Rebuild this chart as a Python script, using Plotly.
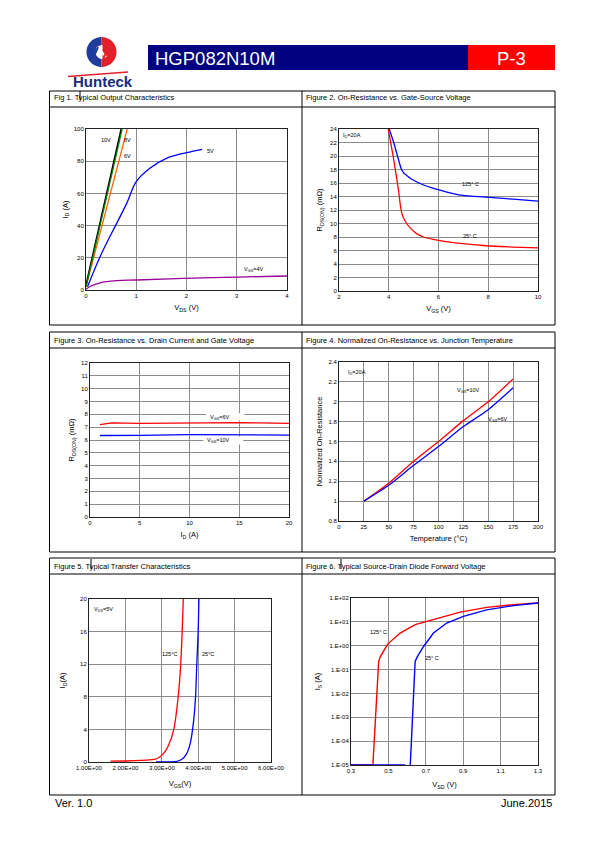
import math
import plotly.graph_objects as go

W, H = 595, 842
FONT = "Liberation Sans, Arial, sans-serif"

def px(x):
    return x / W

def py(y):
    return 1 - y / H

# ---------------- data ----------------
# Fig 1 output characteristics
f1_10v_vds = [0.0, 0.70]
f1_10v_id = [3, 100]
f1_8v_vds = [0.0, 0.72]
f1_8v_id = [2, 100]
f1_6v_vds = [0.0, 0.82]
f1_6v_id = [2, 100]
f1_5v_vds = [0.03, 0.28, 0.61, 0.81, 1.0, 1.27, 1.6, 2.0, 2.31]
f1_5v_id = [2, 20.7, 41.4, 53.8, 67.3, 75.6, 81.8, 85.3, 87.4]
f1_4v_vds = [0.0, 0.1, 0.28, 0.61, 1.0, 1.93, 3.0, 4.0]
f1_4v_id = [0.4, 2.5, 4.5, 5.8, 6.2, 7.2, 8.0, 8.7]

# Fig 2 Rds(on) vs Vgs
f2_vgs_125 = [4.02, 4.2, 4.35, 4.5, 4.6, 4.8, 5.0, 5.4, 5.8, 6.3, 6.9, 7.9, 9.0, 10]
f2_r_125 = [24, 22, 20, 18.1, 17.5, 16.9, 16.4, 15.7, 15.2, 14.7, 14.2, 13.9, 13.6, 13.3]
f2_vgs_25 = [3.98, 4.18, 4.39, 4.47, 4.55, 4.72, 4.9, 5.12, 5.4, 5.79, 6.3, 6.87, 7.94, 9.0, 10]
f2_r_25 = [24, 19.9, 15, 12.6, 11.2, 10, 9.2, 8.5, 8.0, 7.65, 7.3, 7.06, 6.7, 6.5, 6.4]

# Fig 3 Rds(on) vs Id
f3_id = [1, 2.2, 5, 10, 15, 17, 20]
f3_r_6v = [7.2, 7.33, 7.3, 7.35, 7.36, 7.33, 7.3]
f3_r_10v = [6.35, 6.35, 6.36, 6.42, 6.4, 6.39, 6.38]

# Fig 4 normalized Rds(on) vs Tj
f4_temp = [25, 50, 75, 100, 125, 150, 175]
f4_r_10v = [1.0, 1.18, 1.40, 1.60, 1.81, 2.0, 2.23]
f4_r_6v = [1.0, 1.16, 1.36, 1.55, 1.75, 1.92, 2.14]

# Fig 5 transfer characteristics
f5_vgs_125 = [1.59, 2.0, 2.67, 2.86, 3.04, 3.18, 3.33, 3.45, 3.52, 3.56, 3.59]
f5_id_125 = [0.1, 0.12, 0.25, 0.4, 1.0, 2.0, 4.0, 8.0, 12.0, 16.0, 20.0]
f5_vgs_25 = [2.84, 3.41, 3.55, 3.68, 3.78, 3.87, 3.93, 3.96, 4.0, 4.02]
f5_id_25 = [0.0, 0.08, 0.33, 1.0, 2.26, 4.9, 8.2, 11.9, 16, 20]
f5_xtick_vals = [1, 2, 3, 4, 5, 6]
f5_xtick_text = ["1.00E+00", "2.00E+00", "3.00E+00", "4.00E+00", "5.00E+00", "6.00E+00"]

# Fig 6 diode forward voltage
f6_vsd_125 = [0.3, 0.417, 0.448, 0.457, 0.496, 0.563, 0.643, 0.741, 0.884, 1.026, 1.168, 1.3]
f6_is_125 = [1e-5, 1e-5, 0.22, 0.35, 1.17, 3.4, 7.6, 12.3, 25.6, 40.6, 52.7, 61.6]
f6_vsd_25_flat = [0.3, 0.59]
f6_is_25_flat = [1e-5, 1e-5]
f6_vsd_25 = [0.617, 0.643, 0.655, 0.688, 0.741, 0.812, 0.901, 1.026, 1.168, 1.3]
f6_is_25 = [1e-5, 0.22, 0.35, 0.93, 3.4, 8.9, 17, 32, 48, 61.6]
f6_ytick_vals = [1e-5, 1e-4, 1e-3, 1e-2, 1e-1, 1, 10, 100]
f6_ytick_text = ["1.E-05", "1.E-04", "1.E-03", "1.E-02", "1.E-01", "1.E+00", "1.E+01", "1.E+02"]

titles = [
    "Fig 1. Typical Output Characteristics",
    "Figure 2. On-Resistance vs. Gate-Source Voltage",
    "Figure 3. On-Resistance vs. Drain Current and Gate Voltage",
    "Figure 4. Normalized On-Resistance vs. Junction Temperature",
    "Figure 5. Typical Transfer Characteristics",
    "Figure 6. Typical Source-Drain Diode Forward Voltage",
]

# ---------------- figure ----------------
fig = go.Figure()

def line(x, y, color, ax, width=1.3, shape="linear", smoothing=1.0):
    fig.add_trace(go.Scatter(
        x=x, y=y, mode="lines", xaxis="x" + ax, yaxis="y" + ax,
        line=dict(color=color, width=width, shape=shape, smoothing=smoothing),
        showlegend=False, hoverinfo="skip"))

# Fig 1
line(f1_4v_vds, f1_4v_id, "#990099", "", shape="spline")
line(f1_5v_vds, f1_5v_id, "#0000ff", "", shape="spline")
line(f1_6v_vds, f1_6v_id, "#ff6600", "")
line(f1_10v_vds, f1_10v_id, "#000000", "", width=1.6)
line(f1_8v_vds, f1_8v_id, "#008000", "", width=1.2)
# Fig 2
line(f2_vgs_125, f2_r_125, "#0000ff", "2", shape="spline", smoothing=0.4)
line(f2_vgs_25, f2_r_25, "#ff0000", "2", shape="spline", smoothing=0.4)
# Fig 3
line(f3_id, f3_r_6v, "#ff0000", "3")
line(f3_id, f3_r_10v, "#0000ff", "3")
# Fig 4
line(f4_temp, f4_r_10v, "#ff0000", "4", shape="spline", smoothing=0.6)
line(f4_temp, f4_r_6v, "#0000ff", "4", shape="spline", smoothing=0.6)
# Fig 5
line(f5_vgs_125, f5_id_125, "#ff0000", "5", shape="spline", smoothing=0.5)
line(f5_vgs_25, f5_id_25, "#0000ff", "5", shape="spline", smoothing=0.5)
# Fig 6
line(f6_vsd_125, f6_is_125, "#ff0000", "6", width=1.4)
line(f6_vsd_25_flat, f6_is_25_flat, "#0000ff", "6", width=1.6)
line(f6_vsd_25, f6_is_25, "#0000ff", "6", width=1.4)

tickfont = dict(family=FONT, size=6, color="#000")
titlefont = dict(family=FONT, size=7.5, color="#000")

def axis(dom, rng, dtick=None, title="", standoff=6, **kw):
    d = dict(domain=dom, range=rng, showgrid=True, gridcolor="#8c8c8c", gridwidth=1,
             showline=True, linecolor="#222", linewidth=1, mirror=True,
             zeroline=False, ticks="", tickfont=tickfont, fixedrange=True,
             automargin=False,
             title=dict(text=title, font=titlefont, standoff=standoff))
    if dtick is not None:
        d["dtick"] = dtick
        d["tick0"] = rng[0]
    d.update(kw)
    return d

def xd(a, b):
    return [px(a), px(b)]

def yd(top, bot):
    return [py(bot), py(top)]

layout_axes = dict(
    xaxis=axis(xd(86, 287), [0, 4], 1, "V<sub>DS</sub> (V)", anchor="y"),
    yaxis=axis(yd(129, 290), [0, 100], 20, "I<sub>D</sub> (A)", 4, anchor="x"),
    xaxis2=axis(xd(339, 538), [2, 10], 2, "V<sub>GS</sub> (V)", anchor="y2"),
    yaxis2=axis(yd(129, 291), [0, 24], 2, "R<sub>DS(ON)</sub> (mΩ)", 6, anchor="x2"),
    xaxis3=axis(xd(90, 289), [0, 20], 5, "I<sub>D</sub> (A)", anchor="y3"),
    yaxis3=axis(yd(363, 517), [0, 12], 1, "R<sub>DS(ON)</sub> (mΩ)", 5, anchor="x3"),
    xaxis4=axis(xd(339, 538), [0, 200], 25, "Temperature (°C)", anchor="y4"),
    yaxis4=axis(yd(362, 521), [0.8, 2.4], 0.2, "Normalized On-Resistance", 4, anchor="x4"),
    xaxis5=axis(xd(89, 271), [1, 6], None, "V<sub>GS</sub>(V)", 10, anchor="y5",
                tickmode="array", tickvals=f5_xtick_vals, ticktext=f5_xtick_text),
    yaxis5=axis(yd(599, 762), [0, 20], 4, "I<sub>D</sub>(A)", 13, anchor="x5"),
    xaxis6=axis(xd(351, 538), [0.3, 1.3], 0.2, "V<sub>SD</sub> (V)", 8, anchor="y6"),
    yaxis6=axis(yd(598, 765), [-5, 2], None, "I<sub>S</sub> (A)", 7, anchor="x6", type="log",
                tickmode="array", tickvals=f6_ytick_vals, ticktext=f6_ytick_text),
)

ann = []

def note(x, y, text, ax, size=5.5, **kw):
    d = dict(x=x, y=y, xref="x" + ax, yref="y" + ax, text=text, showarrow=False,
             font=dict(family=FONT, size=size, color="#000"))
    d.update(kw)
    ann.append(d)

# Fig 1 labels
note(0.39, 93, "10V", "")
note(0.82, 93, "8V", "")
note(0.83, 83, "6V", "")
note(2.48, 86.3, "5V", "")
note(3.34, 13, "V<sub>GS</sub>=4V", "")
# Fig 2 labels
note(2.51, 23.1, "I<sub>D</sub>=20A", "2")
note(7.27, 15.8, "125° C", "2")
note(7.27, 8.2, "25° C", "2")
# Fig 3 labels
note(13.04, 7.79, "V<sub>GS</sub>=6V", "3")
note(12.88, 5.95, "V<sub>GS</sub>=10V", "3")
# Fig 4 labels
note(18.1, 2.29, "I<sub>D</sub>=20A", "4")
note(129.9, 2.11, "V<sub>GS</sub>=10V", "4")
note(159.4, 1.82, "V<sub>GS</sub>=6V", "4")
# Fig 5 labels
note(1.40, 18.7, "V<sub>DS</sub>=5V", "5")
note(3.20, 13.3, "125°C", "5")
note(4.28, 13.3, "25°C", "5")
# Fig 6 labels
note(0.448, 0.571, "125° C", "6")
note(0.732, -0.52, "25° C", "6")

# Panel titles
title_pos = [(52, 98), (304, 98), (52, 340), (304, 340), (52, 566), (304, 566)]
for t, (x, y) in zip(titles, title_pos):
    ann.append(dict(x=px(x), y=py(y), xref="paper", yref="paper", text=t, showarrow=False,
                    xanchor="left", yanchor="middle",
                    font=dict(family=FONT, size=7.5, color="#000")))

# Header text
ann.append(dict(x=px(153), y=py(58), xref="paper", yref="paper", text="HGP082N10M",
                showarrow=False, xanchor="left", yanchor="middle",
                font=dict(family=FONT, size=18.5, color="#ffffff")))
ann.append(dict(x=px(511.5), y=py(58), xref="paper", yref="paper", text="P-3",
                showarrow=False, xanchor="center", yanchor="middle",
                font=dict(family=FONT, size=18.5, color="#ffffff")))
ann.append(dict(x=px(103), y=py(82), xref="paper", yref="paper", text="<b>Hunteck</b>",
                showarrow=False, xanchor="center", yanchor="middle",
                font=dict(family=FONT, size=15, color="#1c2a7a")))
# Footer
ann.append(dict(x=px(53), y=py(803), xref="paper", yref="paper", text="Ver. 1.0",
                showarrow=False, xanchor="left", yanchor="middle",
                font=dict(family=FONT, size=11, color="#000")))
ann.append(dict(x=px(554), y=py(803), xref="paper", yref="paper", text="June.2015",
                showarrow=False, xanchor="right", yanchor="middle",
                font=dict(family=FONT, size=11, color="#000")))

shapes = []

def rect(x0, y0, x1, y1, fill=None, lc="#000", lw=1):
    d = dict(type="rect", xref="paper", yref="paper", x0=px(x0), x1=px(x1), y0=py(y1), y1=py(y0),
             line=dict(color=lc, width=lw))
    if fill:
        d["fillcolor"] = fill
    shapes.append(d)

def seg(x0, y0, x1, y1, color="#000", w=1):
    shapes.append(dict(type="line", xref="paper", yref="paper", x0=px(x0), x1=px(x1),
                       y0=py(y0), y1=py(y1), line=dict(color=color, width=w)))

# Header bars
rect(148, 45, 468, 70, fill="#000080", lw=0)
rect(468, 45, 555, 70, fill="#ff0000", lw=0)

# Panel boxes
for top, sep, bot in [(91, 107, 325), (332, 348, 552), (558, 574, 795)]:
    rect(49.5, top, 555, bot)
    seg(49.5, sep, 555, sep)
    seg(302, top, 302, bot)

# cursor artifacts in titles
seg(80, 91, 80, 100)
seg(91, 559, 91, 569)
seg(341, 559, 341, 569)

# white label boxes in Fig 3 (hide gridlines behind labels)
for (x0, x1, y0, y1) in [(11.7, 15.5, 7.52, 8.08), (11.4, 15.4, 5.64, 6.28)]:
    shapes.append(dict(type="rect", xref="x3", yref="y3", x0=x0, x1=x1, y0=y0, y1=y1,
                       fillcolor="#ffffff", line=dict(width=0), layer="between"))

# Logo (approximation)
cx, cy, r = 101.5, 52, 15

def arc_path(a0, a1, rr, n=40, dx=0):
    pts = []
    for i in range(n + 1):
        a = a0 + (a1 - a0) * i / n
        pts.append((cx + dx + rr * math.cos(a), cy + rr * math.sin(a)))
    return pts

def path_from(pts):
    s = "M %.5f,%.5f " % (px(pts[0][0]), py(pts[0][1]))
    for p in pts[1:]:
        s += "L %.5f,%.5f " % (px(p[0]), py(p[1]))
    return s + "Z"

shapes.append(dict(type="path", xref="paper", yref="paper",
                   path=path_from(arc_path(math.pi / 2, 3 * math.pi / 2, r)),
                   fillcolor="#1f3c9c", line=dict(width=0)))
shapes.append(dict(type="path", xref="paper", yref="paper",
                   path=path_from(arc_path(-math.pi / 2, math.pi / 2, r)),
                   fillcolor="#e3202a", line=dict(width=0)))
shapes.append(dict(type="path", xref="paper", yref="paper",
                   path=path_from(arc_path(math.pi / 2, 3 * math.pi / 2, 7, dx=1)),
                   fillcolor="#ffffff", line=dict(width=0)))
seg(97, 47, 106, 57, color="#ffffff", w=2.5)
seg(94, 56, 98, 47, color="#1f3c9c", w=2)
seg(104, 57, 109, 47, color="#e3202a", w=2)
seg(68, 76.5, 128, 72, color="#e3202a", w=1.5)

fig.update_layout(
    width=W, height=H, autosize=False, margin=dict(l=0, r=0, t=0, b=0, pad=0, autoexpand=False),
    paper_bgcolor="#ffffff", plot_bgcolor="#ffffff",
    font=dict(family=FONT, color="#000"),
    annotations=ann, shapes=shapes, showlegend=False,
    **layout_axes,
)

post = """
document.documentElement.style.margin='0';
document.documentElement.style.overflow='hidden';
document.body.style.margin='0';
document.body.style.overflow='hidden';
"""

fig.write_html("out.html", config={"displayModeBar": False, "staticPlot": True},
               post_script=post)
